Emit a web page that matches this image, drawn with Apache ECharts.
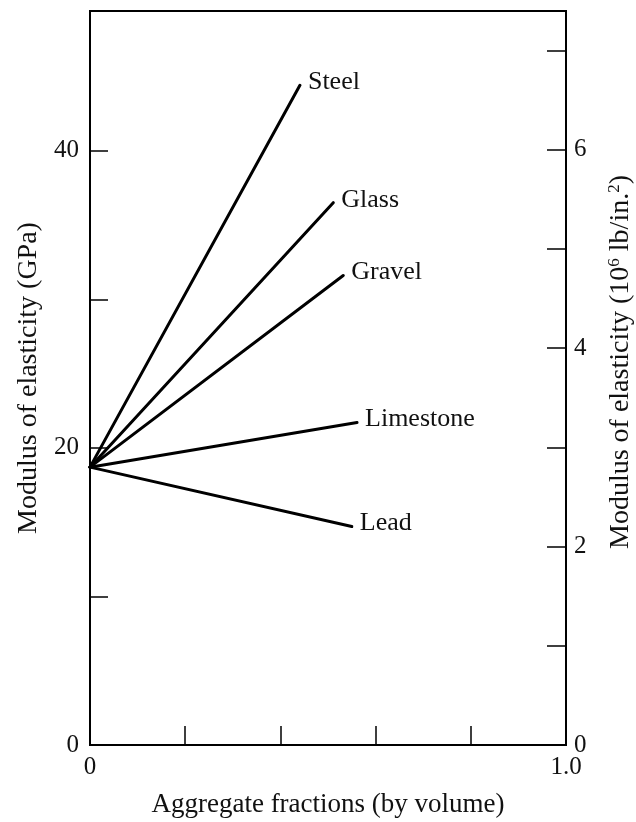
<!DOCTYPE html>
<html>
<head>
<meta charset="utf-8">
<script src="https://cdn.jsdelivr.net/npm/echarts@6/dist/echarts.min.js"></script>
<style>html,body{margin:0;padding:0;background:#fff}#c{width:636px;height:822px}</style>
</head>
<body>
<div id="c"></div>
<script>
// ---- data ----
const materials = ['Steel', 'Glass', 'Gravel', 'Limestone', 'Lead'];
const startFraction = 0;
const startModulus = 18.7;            // GPa, plain paste/matrix
const endFractions = [0.441, 0.511, 0.532, 0.561, 0.550];
const endModuli   = [44.4, 36.5, 31.6, 21.7, 14.7];   // GPa
const xTickLabels = ['0', '1.0'];
const leftTickLabels = [0, 20, 40];
const rightTickLabels = [0, 2, 4, 6];
const leftMax = 49.4;     // GPa at top of frame
const rightMax = 7.40;    // 10^6 lb/in.^2 at top of frame

const FONT = '"Liberation Serif", "DejaVu Serif", serif';
const chart = echarts.init(document.getElementById('c'));

const series = materials.map((name, i) => ({
  name: name,
  type: 'line',
  yAxisIndex: 0,
  symbol: 'none',
  lineStyle: { color: '#000', width: 3, cap: 'round' },
  data: [[startFraction, startModulus], [endFractions[i], endModuli[i]]],
  endLabel: {
    show: true,
    formatter: name,
    color: '#111',
    fontFamily: FONT,
    fontSize: 26,
    distance: 8,
    offset: [0, -3]
  },
  silent: true,
  animation: false
}));

chart.setOption({
  animation: false,
  backgroundColor: '#fff',
  grid: {
    left: 90, right: 70, top: 11, bottom: 77,
    containLabel: false, outerBoundsMode: 'none',
    show: true, borderColor: '#000', borderWidth: 2
  },
  xAxis: {
    type: 'value', min: 0, max: 1, interval: 0.2,
    axisLine: { show: true, lineStyle: { color: '#000', width: 2 } },
    axisTick: { show: true, inside: true, length: 19, lineStyle: { color: '#000', width: 1.5 } },
    splitLine: { show: false },
    axisLabel: {
      color: '#111', fontFamily: FONT, fontSize: 25, margin: 10,
      formatter: v => (v === 0 ? xTickLabels[0] : (Math.abs(v - 1) < 1e-9 ? xTickLabels[1] : ''))
    },
    name: 'Aggregate fractions (by volume)',
    nameLocation: 'middle', nameGap: 46,
    nameTextStyle: { color: '#111', fontFamily: FONT, fontSize: 27 }
  },
  yAxis: [
    {
      type: 'value', min: 0, max: leftMax, interval: 10,
      axisLine: { show: true, lineStyle: { color: '#000', width: 2 } },
      axisTick: { show: true, inside: true, length: 18, lineStyle: { color: '#000', width: 1.5 } },
      splitLine: { show: false },
      axisLabel: {
        color: '#111', fontFamily: FONT, fontSize: 25, margin: 11,
        formatter: v => (leftTickLabels.indexOf(v) >= 0 ? String(v) : '')
      },
      name: 'Modulus of elasticity (GPa)',
      nameLocation: 'middle', nameRotate: 90, nameGap: 46,
      nameTextStyle: { color: '#111', fontFamily: FONT, fontSize: 28 }
    },
    {
      type: 'value', min: 0, max: rightMax, interval: 1, position: 'right',
      axisLine: { show: true, lineStyle: { color: '#000', width: 2 } },
      axisTick: { show: true, inside: true, length: 19, lineStyle: { color: '#000', width: 1.5 } },
      splitLine: { show: false },
      axisLabel: {
        color: '#111', fontFamily: FONT, fontSize: 25, margin: 8,
        formatter: v => (rightTickLabels.indexOf(v) >= 0 ? String(v) : '')
      },
      name: '{a|Modulus of elasticity (10}{s|6}{a| lb/in.}{s|2}{a|)}',
      nameLocation: 'middle', nameRotate: 90, nameGap: 40,
      nameTextStyle: {
        color: '#111', fontFamily: FONT, fontSize: 28,
        padding: [0, 0, 0, 32],
        rich: {
          a: { color: '#111', fontFamily: FONT, fontSize: 28, lineHeight: 30 },
          s: { color: '#111', fontFamily: FONT, fontSize: 17, lineHeight: 17, verticalAlign: 'top' }
        }
      }
    }
  ],
  series: series
});
</script>
</body>
</html>
